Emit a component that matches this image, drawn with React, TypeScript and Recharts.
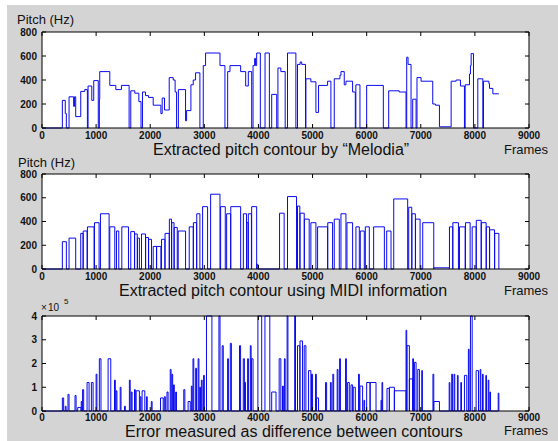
import React from "react";
import { LineChart, Line, XAxis, YAxis } from "recharts";

const W = 558;
const H = 441;
const PLOT_L = 42;
const PLOT_R = 529;

const frameTicks = [0, 1000, 2000, 3000, 4000, 5000, 6000, 7000, 8000, 9000];
const pitchTicks = [0, 200, 400, 600, 800];
const errorTicks = [0, 1, 2, 3, 4];

// Melodia contour: [frame, pitch in Hz] break points, value holds until next point
const melodia: [number, number][] = [
  [0, 0], [376, 230], [430, 120], [450, 0], [500, 260], [585, 180], [600, 260], [623, 95],
  [716, 305], [790, 320], [839, 0], [851, 350], [920, 230], [956, 395], [1040, 0], [1060, 240],
  [1067, 470], [1253, 355], [1364, 320], [1468, 355], [1610, 0], [1641, 310], [1715, 290],
  [1790, 220], [1830, 0], [1857, 300], [1913, 270], [1968, 255], [2055, 190], [2197, 120],
  [2221, 250], [2264, 150], [2351, 420], [2425, 400], [2460, 300], [2487, 0], [2520, 320],
  [2653, 60], [2672, 145], [2752, 360], [2795, 400], [2838, 460], [2918, 0], [2980, 520],
  [3023, 625], [3289, 520], [3381, 0], [3431, 470], [3474, 520], [3671, 470], [3764, 350],
  [3813, 470], [3875, 0], [3900, 520], [3930, 580], [3945, 520], [3967, 625], [4035, 0],
  [4122, 625], [4202, 0], [4245, 280], [4338, 0], [4360, 500], [4414, 470], [4494, 0],
  [4537, 625], [4692, 0], [4722, 530], [4770, 550], [4800, 530], [4870, 0], [4877, 410],
  [4969, 385], [5062, 130], [5111, 355], [5278, 390], [5339, 0], [5401, 410], [5506, 440],
  [5525, 470], [5586, 360], [5617, 390], [5740, 300], [5790, 0], [5800, 360], [5876, 0],
  [6000, 355], [6308, 0], [6407, 310], [6600, 300], [6728, 0], [6740, 590], [6765, 530],
  [6820, 0], [6851, 240], [6913, 0], [6930, 420], [7005, 390], [7221, 200], [7271, 190],
  [7345, 10], [7561, 390], [7653, 400], [7733, 350], [7807, 0], [7820, 360], [7900, 450],
  [7918, 520], [7931, 620], [7974, 0], [8054, 410], [8147, 0], [8159, 390], [8258, 370],
  [8270, 330], [8332, 285], [8443, 285],
];

// MIDI notes: [start frame, end frame, pitch in Hz]
const midiNotes: [number, number, number][] = [
  [376, 450, 230], [500, 623, 260], [716, 759, 300], [762, 833, 320], [840, 962, 355],
  [970, 1055, 390], [1080, 1240, 465], [1253, 1345, 355], [1376, 1419, 320], [1475, 1598, 355],
  [1641, 1710, 315], [1712, 1760, 295], [1765, 1800, 260], [1839, 1913, 295], [1916, 1968, 265],
  [1971, 2024, 250], [2055, 2116, 190], [2119, 2197, 190], [2209, 2271, 250], [2274, 2351, 300],
  [2354, 2394, 420], [2397, 2440, 390], [2443, 2500, 350], [2517, 2653, 320], [2721, 2795, 355],
  [2798, 2857, 390], [2860, 2918, 465], [2968, 3060, 525], [3116, 3289, 630], [3301, 3387, 525],
  [3412, 3486, 465], [3489, 3671, 525], [3721, 3780, 465], [3783, 3810, 390], [3813, 3870, 465],
  [3875, 3967, 525], [3970, 3990, 40], [4390, 4475, 470], [4537, 4704, 610], [4722, 4765, 530],
  [4768, 4846, 470], [4849, 4938, 420], [4969, 5062, 390], [5093, 5278, 355], [5281, 5370, 390],
  [5401, 5494, 420], [5525, 5617, 465], [5636, 5740, 390], [5802, 5864, 355], [5882, 5956, 320],
  [5975, 6049, 355], [6129, 6327, 355], [6370, 6450, 320], [6500, 6758, 590], [6777, 6833, 520],
  [6836, 6900, 465], [6903, 6987, 420], [7036, 7240, 390], [7240, 7530, 10], [7530, 7590, 355],
  [7593, 7696, 390], [7715, 7820, 355], [7826, 7912, 390], [7950, 8023, 355], [8026, 8116, 410],
  [8119, 8208, 390], [8211, 8270, 355], [8273, 8363, 330], [8366, 8443, 300],
];

// Error between contours: [start frame, end frame, error in units of 10^5]
const errorSpikes: [number, number, number][] = [
  [376, 400, 0.55], [430, 445, 0.2], [480, 500, 0.7], [610, 630, 0.65], [660, 720, 0.15],
  [725, 740, 0.4], [750, 770, 0.9], [833, 870, 1.2], [913, 944, 1.2], [1000, 1015, 1.55],
  [1060, 1090, 2.2], [1222, 1271, 2.2], [1340, 1355, 1.3], [1370, 1385, 0.85], [1445, 1460, 1.0],
  [1525, 1540, 0.2], [1615, 1630, 1.3], [1650, 1665, 0.8], [1710, 1725, 0.9], [1740, 1800, 0.85],
  [1815, 1830, 0.6], [1850, 1900, 0.85], [1930, 1945, 0.6], [2020, 2035, 0.4], [2190, 2240, 0.55],
  [2260, 2280, 0.6], [2310, 2330, 0.8], [2370, 2385, 1.75], [2400, 2415, 1.55], [2430, 2445, 1.1],
  [2470, 2485, 0.8], [2620, 2640, 0.9], [2700, 2740, 0.4], [2760, 2775, 1.05], [2790, 2805, 2.2],
  [2840, 2855, 1.8], [2885, 2900, 2.2], [2915, 2930, 1.0], [2945, 2960, 1.3], [2986, 3000, 1.5],
  [3040, 3140, 4], [3270, 3290, 4], [3330, 3350, 2.75], [3430, 3445, 2.2], [3480, 3500, 2.85],
  [3650, 3670, 2.75], [3720, 3740, 2.2], [3745, 3760, 1.2], [3800, 3815, 2.2], [3850, 3865, 2.75],
  [3870, 3900, 2.2], [3990, 4060, 4], [4120, 4210, 4], [4245, 4325, 0.8], [4383, 4414, 2.2],
  [4445, 4460, 1.05], [4480, 4494, 2.2], [4530, 4545, 4], [4670, 4685, 4], [4722, 4765, 2.75],
  [4768, 4815, 2.95], [4846, 4877, 2.75], [4926, 4969, 1.7], [4981, 5000, 1.55], [5055, 5070, 1.55],
  [5074, 5111, 0.55], [5240, 5260, 1.2], [5330, 5345, 1.2], [5375, 5390, 1.55], [5455, 5470, 1.75],
  [5500, 5515, 2.2], [5610, 5625, 2.2], [5648, 5679, 1.2], [5710, 5740, 1.1], [5752, 5790, 1.0],
  [5850, 5865, 1.55], [5876, 5925, 1.05], [5950, 5962, 0.45], [6000, 6062, 1.2], [6065, 6173, 1.2],
  [6265, 6280, 0.45], [6283, 6296, 1.2], [6376, 6419, 0.95], [6419, 6512, 1.0], [6512, 6728, 0.85],
  [6728, 6740, 3.4], [6746, 6789, 2.75], [6789, 6851, 1.35], [6851, 6866, 2.2], [6882, 6913, 2.05],
  [6944, 6975, 1.75], [7018, 7030, 1.7], [7225, 7240, 1.55], [7240, 7345, 0.4], [7525, 7538, 1.2],
  [7572, 7585, 1.55], [7615, 7628, 1.55], [7677, 7690, 1.5], [7740, 7752, 1.2], [7807, 7850, 1.5],
  [7880, 7893, 2.6], [7918, 7950, 4], [8023, 8067, 1.7], [8098, 8110, 1.75], [8141, 8153, 1.55],
  [8202, 8214, 1.5], [8246, 8258, 1.3], [8277, 8289, 0.8], [8431, 8443, 0.75],
];

const toSteps = (notes: [number, number, number][]) => {
  const pts = [{ f: 0, v: 0 }];
  notes.forEach(([s, e, v]) => {
    pts.push({ f: s, v });
    pts.push({ f: e, v: 0 });
  });
  return pts;
};

const panels = [
  {
    top: 32, bottom: 128, yMax: 800, yTicks: pitchTicks, tickDy: 11,
    data: melodia.map(([f, v]) => ({ f, v })),
    title: "Extracted pitch contour by \u201cMelodia\u201d", titleX: 153, titleY: 155,
    framesY: 153.5,
  },
  {
    top: 174, bottom: 269, yMax: 800, yTicks: pitchTicks, tickDy: 11,
    data: toSteps(midiNotes),
    title: "Extracted pitch contour using MIDI information", titleX: 119, titleY: 296,
    framesY: 294.5,
  },
  {
    top: 316, bottom: 411, yMax: 4, yTicks: errorTicks, tickDy: 9.5,
    data: toSteps(errorSpikes),
    title: "Error measured as difference between contours", titleX: 125, titleY: 437,
    framesY: 434.5,
  },
];

const tickFont = { fontFamily: "Liberation Sans, Arial, sans-serif", fontSize: 10, fontWeight: 700 };

const XTick = (props: any) => {
  const { x, payload, top, bottom, dy } = props;
  return (
    <g>
      <line x1={x} y1={bottom} x2={x} y2={bottom - 4} stroke="#000" />
      <line x1={x} y1={top} x2={x} y2={top + 4} stroke="#000" />
      <text x={x} y={bottom + dy} textAnchor="middle" fill="#111" style={tickFont}>
        {payload.value}
      </text>
    </g>
  );
};

const YTick = (props: any) => {
  const { y, payload } = props;
  return (
    <g>
      <line x1={PLOT_L} y1={y} x2={PLOT_L + 4} y2={y} stroke="#000" />
      <line x1={PLOT_R} y1={y} x2={PLOT_R - 4} y2={y} stroke="#000" />
      <text x={PLOT_L - 5} y={y + 3.5} textAnchor="end" fill="#111" style={tickFont}>
        {payload.value}
      </text>
    </g>
  );
};

// each axis takes 1px, so the margins are one px smaller than the plot box
const Panel = ({ p }: { p: (typeof panels)[number] }) => (
  <div style={{ position: "absolute", left: 0, top: 0 }}>
    <LineChart
      width={W}
      height={H}
      data={p.data}
      margin={{ top: p.top - 1, bottom: H - p.bottom - 1, left: PLOT_L - 1, right: W - PLOT_R - 1 }}
    >
      <XAxis
        xAxisId="b" dataKey="f" type="number" domain={[0, 9000]} ticks={frameTicks}
        interval={0} height={1} axisLine={{ stroke: "#000" }} tickLine={false}
        tick={<XTick top={p.top} bottom={p.bottom} dy={p.tickDy} />}
      />
      <XAxis
        xAxisId="t" orientation="top" dataKey="f" type="number" domain={[0, 9000]}
        height={1} axisLine={{ stroke: "#000" }} tickLine={false} tick={false}
      />
      <YAxis
        yAxisId="l" type="number" domain={[0, p.yMax]} ticks={p.yTicks} interval={0}
        width={1} axisLine={{ stroke: "#000" }} tickLine={false} tick={<YTick />}
      />
      <YAxis
        yAxisId="r" orientation="right" type="number" domain={[0, p.yMax]}
        width={1} axisLine={{ stroke: "#000" }} tickLine={false} tick={false}
      />
      <Line
        xAxisId="b" yAxisId="l" dataKey="v" type="stepAfter" stroke="#0a0af0"
        strokeWidth={1} dot={false} isAnimationActive={false}
      />
    </LineChart>
  </div>
);

const labelFont = { fontFamily: "Liberation Sans, Arial, sans-serif", fill: "#111" };

export default function App() {
  return (
    <div style={{ position: "absolute", left: 0, top: 0, width: W, height: H, background: "#fff", overflow: "hidden" }}>
      <div style={{ position: "absolute", left: 7, top: 5, right: 0, bottom: 0, background: "#d4d4d4" }} />
      {panels.map((p, i) => (
        <div
          key={"bg" + i}
          style={{ position: "absolute", left: PLOT_L, top: p.top, width: PLOT_R - PLOT_L, height: p.bottom - p.top, background: "#fff" }}
        />
      ))}
      {panels.map((p, i) => (
        <Panel key={i} p={p} />
      ))}
      <svg width={W} height={H} style={{ position: "absolute", left: 0, top: 0 }}>
        <text x={17} y={24} fontSize={13} style={labelFont}>Pitch (Hz)</text>
        <text x={18} y={166.5} fontSize={13} style={labelFont}>Pitch (Hz)</text>
        <text x={41} y={311} fontSize={10} style={labelFont}>{"\u00d7"}</text>
        <text x={48} y={311} fontSize={10} style={labelFont}>10</text>
        <text x={64} y={304} fontSize={8} style={labelFont}>5</text>
        {panels.map((p, i) => (
          <g key={"t" + i}>
            <text x={p.titleX} y={p.titleY} fontSize={16} style={labelFont}>{p.title}</text>
            <text x={504} y={p.framesY} fontSize={13} style={labelFont}>Frames</text>
          </g>
        ))}
      </svg>
    </div>
  );
}
